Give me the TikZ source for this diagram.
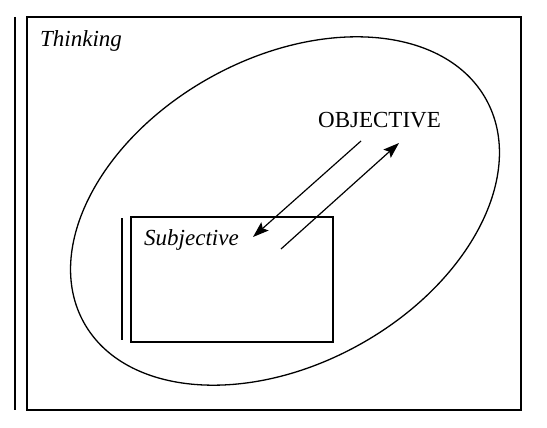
\documentclass[tikz,border=0pt]{standalone}
\usepackage{fontspec}
\setmainfont{Liberation Serif}
\usetikzlibrary{arrows.meta}
\begin{document}
\begin{tikzpicture}[x=1pt,y=-1pt,
  frame/.style={line width=1.5pt},
  thin/.style={line width=1.3pt},
  lbl/.style={inner sep=0pt,anchor=base west,font=\fontsize{23}{26}\selectfont},
  arr/.style={line width=1.2pt,-{Stealth[length=16pt,width=11pt,inset=3pt]}}]
\useasboundingbox (0,0) rectangle (547,428);
% outer frame
\coordinate (otl) at (27,17);
\coordinate (obr) at (521,410);
\draw[frame] (otl) rectangle (obr);
\coordinate (ot) at (15,17);
\coordinate (ob) at (15,410);
\draw[frame] (ot) -- (ob);
% ellipse
\draw[thin,rotate around={29:(285,211)}] (285,211) ellipse [x radius=230, y radius=153];
% inner rectangle
\coordinate (itl) at (131,217);
\coordinate (ibr) at (333,342);
\draw[thin] (itl) rectangle (ibr);
\coordinate (it) at (122,218);
\coordinate (ib) at (122,340);
\draw[thin] (it) -- (ib);
% labels
\node[lbl,font=\fontsize{23}{26}\selectfont\itshape] (thinking) at (40,47) {Thinking};
\node[lbl,font=\fontsize{23}{26}\selectfont\itshape] (subj) at (144,245) {Subjective};
\node[lbl] (obj) at (318,128) {OBJECTIVE};
% arrows
\coordinate (a1s) at (361,141);
\coordinate (a1e) at (253,237);
\coordinate (a2s) at (281,249);
\coordinate (a2e) at (399,143);
\draw[arr] (a1s) -- (a1e);
\draw[arr] (a2s) -- (a2e);
\end{tikzpicture}
\end{document}
